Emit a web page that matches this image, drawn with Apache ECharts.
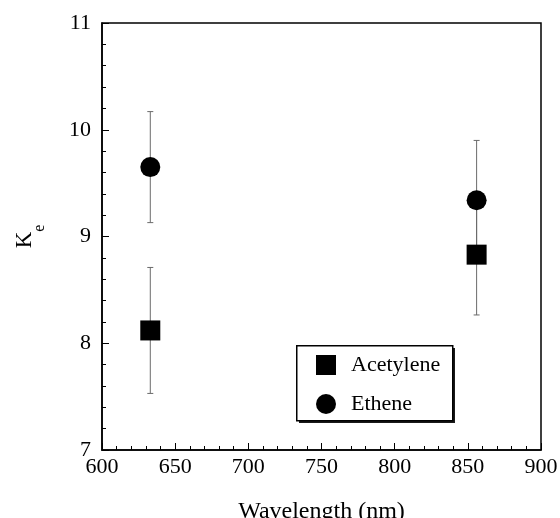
<!DOCTYPE html>
<html>
<head>
<meta charset="utf-8">
<script src="https://cdn.jsdelivr.net/npm/echarts@6/dist/echarts.min.js"></script>
<style>
  html, body { margin: 0; padding: 0; background: #fff; }
  #chart { width: 560px; height: 518px; }
</style>
</head>
<body>
<div id="chart"></div>
<script>
var wavelengths = [633, 856];
var acetyleneKe = [8.12, 8.83];
var acetyleneErr = [0.59, 0.565];
var etheneKe = [9.65, 9.34];
var etheneErr = [0.52, 0.56];

var serif = '"Liberation Serif", "DejaVu Serif", serif';

function points(ys) {
    return wavelengths.map(function (w, i) { return [w, ys[i]]; });
}
function bars(ys, errs) {
    return wavelengths.map(function (w, i) { return [w, ys[i] - errs[i], ys[i] + errs[i]]; });
}

function renderErrorBar(params, api) {
    var x = api.value(0);
    var lo = api.coord([x, api.value(1)]);
    var hi = api.coord([x, api.value(2)]);
    var w = 3;
    var st = { stroke: '#6a6a6a', lineWidth: 1 };
    return {
        type: 'group',
        children: [
            { type: 'line', shape: { x1: hi[0], y1: hi[1], x2: lo[0], y2: lo[1] }, style: st },
            { type: 'line', shape: { x1: hi[0] - w, y1: hi[1], x2: hi[0] + w, y2: hi[1] }, style: st },
            { type: 'line', shape: { x1: lo[0] - w, y1: lo[1], x2: lo[0] + w, y2: lo[1] }, style: st }
        ]
    };
}

var chart = echarts.init(document.getElementById('chart'));

chart.setOption({
    animation: false,
    backgroundColor: '#fff',
    textStyle: { fontFamily: serif, color: '#000' },
    grid: {
        left: 102, right: 19, top: 23, bottom: 68,
        containLabel: false, outerBoundsMode: 'none',
        show: true, borderColor: '#000', borderWidth: 1.5
    },
    // legend frame with the drop shadow
    graphic: [
        { type: 'rect', left: 299, top: 348, z: 10,
          shape: { width: 156, height: 75 }, style: { fill: '#1a1a1a' } },
        { type: 'rect', left: 296, top: 345, z: 11,
          shape: { width: 156, height: 75 }, style: { fill: '#fff', stroke: '#000', lineWidth: 1.5 } }
    ],
    legend: {
        data: [
            { name: 'Acetylene', icon: 'rect' },
            { name: 'Ethene', icon: 'circle' }
        ],
        orient: 'vertical',
        left: 296, top: 345, z: 20,
        itemWidth: 20, itemHeight: 20, itemGap: 17,
        padding: [9, 13, 9, 20],
        textStyle: { fontFamily: serif, fontSize: 22, color: '#000', padding: [0, 0, 0, 10] }
    },
    xAxis: {
        type: 'value',
        min: 600, max: 900, interval: 50,
        name: 'Wavelength (nm)',
        nameLocation: 'middle',
        nameGap: 50,
        nameTextStyle: { fontFamily: serif, fontSize: 24, color: '#000' },
        axisLine: { lineStyle: { color: '#000', width: 1.5 } },
        axisTick: { inside: true, length: 7, lineStyle: { color: '#000' } },
        minorTick: { show: true, splitNumber: 5, length: 4, lineStyle: { color: '#000' } },
        splitLine: { show: false },
        axisLabel: { fontFamily: serif, fontSize: 22, color: '#000', margin: 6 }
    },
    yAxis: {
        type: 'value',
        min: 7, max: 11, interval: 1,
        name: '{k|K}{e|e}',
        nameLocation: 'middle',
        nameRotate: 90,
        nameGap: 54,
        nameTextStyle: {
            fontFamily: serif, color: '#000',
            rich: {
                k: { fontFamily: serif, fontSize: 23, color: '#000' },
                e: { fontFamily: serif, fontSize: 16, color: '#000', padding: [30, 0, 0, 0] }
            }
        },
        axisLine: { lineStyle: { color: '#000', width: 1.5 } },
        axisTick: { inside: true, length: 7, lineStyle: { color: '#000' } },
        minorTick: { show: true, splitNumber: 5, length: 4, lineStyle: { color: '#000' } },
        splitLine: { show: false },
        axisLabel: { fontFamily: serif, fontSize: 22, color: '#000', margin: 11 }
    },
    series: [
        {
            type: 'custom', name: 'errAcetylene',
            renderItem: renderErrorBar,
            encode: { x: 0, y: [1, 2] },
            data: bars(acetyleneKe, acetyleneErr), z: 1
        },
        {
            type: 'custom', name: 'errEthene',
            renderItem: renderErrorBar,
            encode: { x: 0, y: [1, 2] },
            data: bars(etheneKe, etheneErr), z: 1
        },
        {
            type: 'scatter', name: 'Acetylene',
            symbol: 'rect', symbolSize: 20,
            itemStyle: { color: '#000', opacity: 1 },
            data: points(acetyleneKe), z: 3
        },
        {
            type: 'scatter', name: 'Ethene',
            symbol: 'circle', symbolSize: 20,
            itemStyle: { color: '#000', opacity: 1 },
            data: points(etheneKe), z: 3
        }
    ]
});
</script>
</body>
</html>
